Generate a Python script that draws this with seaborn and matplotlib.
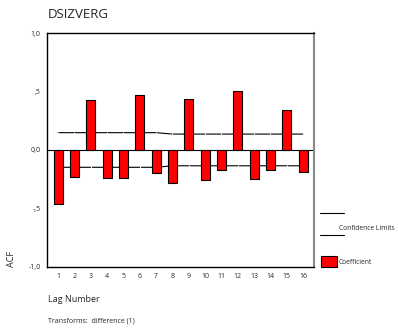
import numpy as np
import pandas as pd
import matplotlib
matplotlib.use("Agg")
import matplotlib.pyplot as plt
from matplotlib.patches import Rectangle
from matplotlib.lines import Line2D
import seaborn as sns

# ACF values
lags = list(range(1, 17))
acf = [-0.46, -0.23, 0.43, -0.24, -0.24, 0.47, -0.20, -0.28,
       0.44, -0.26, -0.17, 0.50, -0.25, -0.17, 0.34, -0.19]
upper_limit = [0.148] * 7 + [0.136] * 9
lower_limit = [-0.148] * 7 + [-0.135] * 9
y_ticks = [-1.0, -0.5, 0.0, 0.5, 1.0]
y_tick_labels = ["-1,0", "-,5", "0,0", ",5", "1,0"]

df = pd.DataFrame({"lag": lags, "acf": acf, "upper": upper_limit, "lower": lower_limit})

sns.set_style("white")
plt.rcParams["font.family"] = ["Open Sans", "DejaVu Sans"]

fig = plt.figure(figsize=(3.99, 3.30), dpi=100)
ax = fig.add_axes([0.118, 0.191, 0.669, 0.709])

sns.barplot(data=df, x="lag", y="acf", native_scale=True, width=0.55,
            color="#ff0000", edgecolor="black", linewidth=0.8, saturation=1,
            ax=ax, zorder=3)
sns.lineplot(data=df, x="lag", y="upper", color="black", linewidth=0.8,
             marker="|", markersize=2, markeredgewidth=0.8, ax=ax, zorder=2)
sns.lineplot(data=df, x="lag", y="lower", color="black", linewidth=0.8,
             marker="|", markersize=2, markeredgewidth=0.8, ax=ax, zorder=2)

ax.axhline(0, color="black", linewidth=0.8, zorder=1)
ax.set_xlim(0.33, 16.67)
ax.set_ylim(-1.0, 1.0)
ax.set_xticks(lags)
ax.set_xticklabels([str(l) for l in lags], fontsize=5)
ax.set_yticks(y_ticks)
ax.set_yticklabels(y_tick_labels, fontsize=5)
ax.tick_params(axis="both", direction="out", length=2.5, width=1.5, pad=2, color="black")

for side in ["left", "bottom", "top"]:
    ax.spines[side].set_color("black")
    ax.spines[side].set_linewidth(1.0)
ax.spines["right"].set_color("#888888")
ax.spines["right"].set_linewidth(1.5)

ax.set_xlabel("")
ax.set_ylabel("")
fig.text(0.03, 0.19, "ACF", rotation=90, fontsize=6.5, ha="center", va="bottom")
fig.text(0.12, 0.935, "DSIZVERG", fontsize=9.5, ha="left", va="bottom")
fig.text(0.12, 0.093, "Lag Number", fontsize=6.5, ha="left", va="center")
fig.text(0.12, 0.027, "Transforms:  difference (1)", fontsize=5, ha="left", va="center")

# legend drawn by hand, SPSS style
fig.add_artist(Line2D([0.802, 0.862], [0.355, 0.355], color="black", linewidth=0.8))
fig.add_artist(Line2D([0.802, 0.862], [0.288, 0.288], color="black", linewidth=0.8))
fig.text(0.849, 0.309, "Confidence Limits", fontsize=4.8, ha="left", va="center")
fig.add_artist(Rectangle((0.805, 0.191), 0.040, 0.033, facecolor="#ff0000",
                         edgecolor="black", linewidth=0.8))
fig.text(0.849, 0.205, "Coefficient", fontsize=4.8, ha="left", va="center")

fig.savefig("out.png", dpi=100)
